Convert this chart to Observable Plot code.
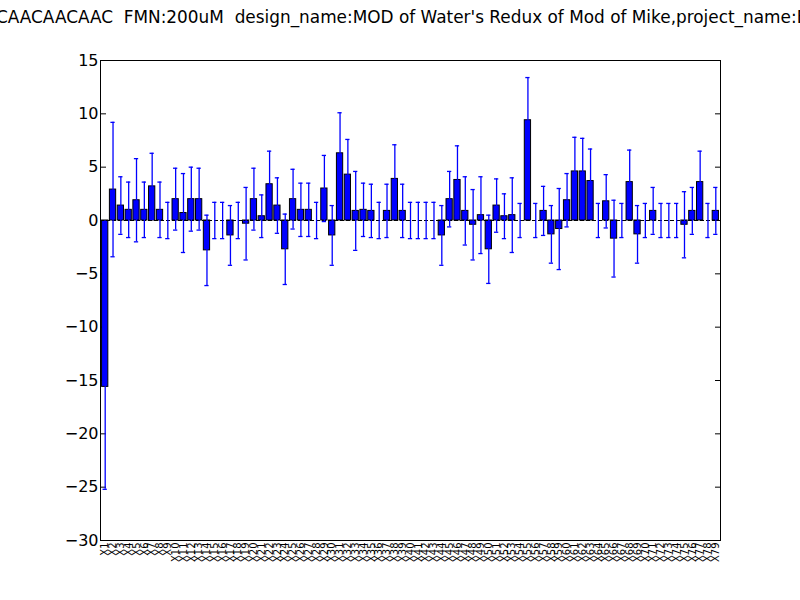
<!DOCTYPE html>
<html><head><meta charset="utf-8">
<script src="https://cdn.jsdelivr.net/npm/d3@7"></script>
<script src="https://cdn.jsdelivr.net/npm/@observablehq/plot@0.6"></script>
<style>
body{margin:0;background:#fff;font-family:"DejaVu Sans",sans-serif}
#wrap{position:relative;width:800px;height:600px;overflow:hidden}
#title{position:absolute;top:7px;left:-4px;white-space:nowrap;font-size:16.9px}
</style></head>
<body><div id="wrap"><div id="title">CAACAACAAC&nbsp;&nbsp;FMN:200uM&nbsp;&nbsp;design_name:MOD of Water's Redux of Mod of Mike,project_name:Brourd's Eterna Redux</div><div id="chart"></div></div>
<script>
const values = [-15.6,2.9,1.4,1.0,1.9,1.0,3.2,1.0,0,2.0,0.7,2.0,2.0,-2.8,0,0,-1.4,0,-0.3,2.0,
  0.4,3.4,1.4,-2.7,2.0,1.0,1.0,0,3.0,-1.4,6.3,4.3,0.9,1.0,0.9,0,0.9,3.9,0.9,0,
  0,0,0,-1.4,2.0,3.8,0.9,-0.4,0.5,-2.7,1.4,0.4,0.5,0,9.4,0,0.9,-1.3,-0.8,1.9,
  4.6,4.6,3.7,0,1.8,-1.7,0,3.6,-1.3,0,0.9,0,0,0,-0.4,0.9,3.6,0,0.9]
const errors = [9.6,6.3,2.7,2.6,3.9,2.6,3.1,2.6,1.7,2.9,3.7,3.0,2.9,3.3,1.7,1.7,2.8,1.7,3.4,2.9,
  2.0,3.1,2.6,3.3,2.8,2.5,2.5,1.7,3.1,2.8,3.8,3.3,3.7,2.5,2.5,1.7,2.5,3.2,2.5,1.7,
  1.7,1.7,1.7,2.8,2.6,3.2,3.2,3.3,3.6,3.2,2.5,2.1,3.5,1.6,4.0,1.6,2.3,2.7,3.8,2.5,
  3.2,3.1,3.0,1.6,2.5,3.6,1.6,3.0,2.7,1.6,2.2,1.6,1.6,1.6,3.1,2.2,2.9,1.6,2.2]
const labels = values.map((_, i) => "X" + (i + 1))
const data = labels.map((name, i) => ({name, v: values[i], e: errors[i]}))

const chart = Plot.plot({
  width: 800, height: 600,
  marginLeft: 100, marginRight: 80, marginTop: 60, marginBottom: 60,
  style: {fontFamily: "DejaVu Sans", background: "white", color: "black"},
  x: {domain: labels, padding: 0.2, label: null},
  y: {domain: [-30, 15], ticks: [-30,-25,-20,-15,-10,-5,0,5,10,15], label: null},
  marks: [
    Plot.axisX({tickRotate: -90, tickSize: 0, fontSize: 10, tickPadding: 2, fill: "black"}),
    Plot.axisY({tickSize: -6, fontSize: 16, tickPadding: 8, tickFormat: d => d < 0 ? "\u2212" + Math.abs(d) : d}),
    Plot.axisY({anchor: "right", tickSize: -6, tickFormat: () => ""}),
    Plot.barY(data, {x: "name", y: "v", fill: "#0000ff", stroke: "black", strokeWidth: 1}),
    Plot.ruleY([0], {strokeDasharray: "4,2"}),
    Plot.ruleX(data, {x: "name", y1: d => d.v - d.e, y2: d => d.v + d.e, stroke: "#0000ff", strokeWidth: 1.3}),
    Plot.tickY(data, {x: "name", y: d => d.v - d.e, stroke: "#0000ff", strokeWidth: 1.3, inset: 1}),
    Plot.tickY(data, {x: "name", y: d => d.v + d.e, stroke: "#0000ff", strokeWidth: 1.3, inset: 1}),
    Plot.frame({stroke: "black"})
  ]
})
document.getElementById("chart").append(chart)
</script></body></html>
